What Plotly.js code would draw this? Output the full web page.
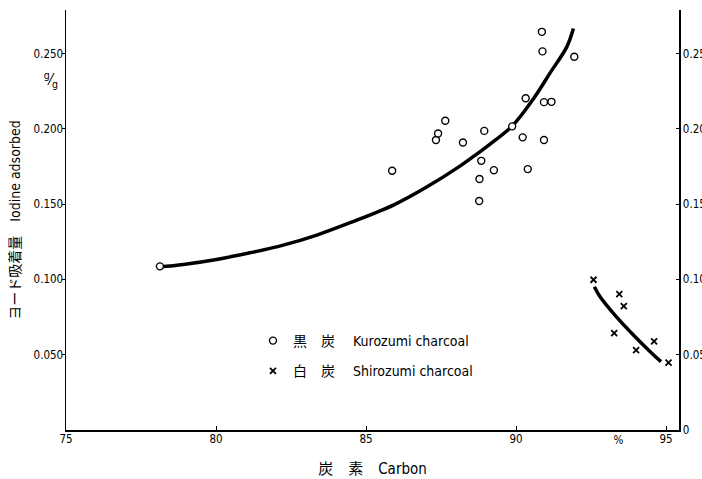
<!DOCTYPE html>
<html>
<head>
<meta charset="utf-8">
<script src="https://cdn.plot.ly/plotly-3.0.1.min.js"></script>
<style>
html,body{margin:0;padding:0;background:#fff;}
#chart{width:702px;height:479px;}
#chart svg text{font-stretch:condensed !important;}
</style>
</head>
<body>
<div id="chart"></div>
<script>
// Kurozumi charcoal (黒炭) measured points
const kuroCarbon = [78.13, 85.87, 87.33, 87.40, 87.64, 88.23, 88.94, 88.84, 88.78, 88.77, 89.26, 89.87, 90.22, 90.39, 90.32, 90.86, 90.88, 90.93, 91.18, 90.93, 91.94];
const kuroIodine = [0.1087, 0.1722, 0.1926, 0.1970, 0.2054, 0.1910, 0.1987, 0.1788, 0.1667, 0.1521, 0.1726, 0.2017, 0.1944, 0.1733, 0.2204, 0.2645, 0.2515, 0.2178, 0.2180, 0.1926, 0.2479];
// Kurozumi fitted curve
const kuroCurveCarbon = [78.13, 78.91, 80.02, 81.13, 82.24, 83.36, 84.47, 85.91, 87.02, 88.13, 88.69, 89.24, 89.87, 90.58, 91.13, 91.69, 91.91];
const kuroCurveIodine = [0.1084, 0.1100, 0.1133, 0.1177, 0.1228, 0.1295, 0.1377, 0.1494, 0.1614, 0.1753, 0.1833, 0.1916, 0.2019, 0.2201, 0.2371, 0.2545, 0.2667];
// Shirozumi charcoal (白炭) measured points
const shiroCarbon = [92.58, 93.44, 93.59, 93.27, 94.00, 94.60, 95.08];
const shiroIodine = [0.0998, 0.0903, 0.0823, 0.0644, 0.0531, 0.0589, 0.0447];
// Shirozumi fitted curve
const shiroCurveCarbon = [92.61, 92.80, 93.36, 93.91, 94.47, 94.83];
const shiroCurveIodine = [0.0952, 0.0885, 0.0748, 0.0631, 0.0520, 0.0454];
// Axis ticks
const xTickVals = [75, 80, 85, 90, 95];
const xTickText = ['75', '80', '85', '90', '95'];
const yTickVals = [0.05, 0.10, 0.15, 0.20, 0.25];
const yTickText = ['0.050', '0.100', '0.150', '0.200', '0.250'];
const y2TickVals = [0, 0.05, 0.10, 0.15, 0.20, 0.25];
const y2TickText = ['0', '0.050', '0.100', '0.150', '0.200', '0.250'];

const NARROW = '"DejaVu Sans", sans-serif';
const MIXED = '"DejaVu Sans", "Noto Sans CJK JP", sans-serif';
const xRange = [75, 95.43];
const yRange = [0, 0.279];

const traces = [
  {x: kuroCurveCarbon, y: kuroCurveIodine, mode: 'lines', line: {color: '#000', width: 3.5, shape: 'spline', smoothing: 1}, showlegend: false, hoverinfo: 'skip'},
  {x: shiroCurveCarbon, y: shiroCurveIodine, mode: 'lines', line: {color: '#000', width: 3.5, shape: 'spline', smoothing: 1}, showlegend: false, hoverinfo: 'skip', yaxis: 'y2'},
  {x: kuroCarbon, y: kuroIodine, mode: 'markers', name: '黒　炭　 Kurozumi charcoal', legendgroup: 'a',
   marker: {symbol: 'circle', size: 7, color: '#fff', line: {color: '#000', width: 1.4}}},
  {x: shiroCarbon, y: shiroIodine, mode: 'markers', name: '白　炭　 Shirozumi charcoal', legendgroup: 'b', yaxis: 'y2',
   marker: {symbol: 'x-thin-open', size: 6, color: '#000', line: {color: '#000', width: 1.8}}}
];

const layout = {
  width: 702, height: 479,
  margin: {l: 66, r: 23, t: 10, b: 49},
  paper_bgcolor: '#fff', plot_bgcolor: '#fff',
  font: {family: NARROW, color: '#000', size: 11},
  xaxis: {
    range: xRange, showgrid: false, zeroline: false, showline: true, linecolor: '#000', linewidth: 1.5,
    ticks: 'inside', ticklen: 4, tickcolor: '#000', tickvals: xTickVals, ticktext: xTickText,
    tickfont: {family: NARROW, size: 11.5}, ticklabelstandoff: -2,
    title: {text: '炭　素　Carbon', font: {family: MIXED, size: 15}, standoff: 18}
  },
  yaxis: {
    range: yRange, showgrid: false, zeroline: false, showline: true, linecolor: '#000', linewidth: 1.5,
    ticks: 'outside', ticklen: 3, tickcolor: '#000', tickvals: yTickVals, ticktext: yTickText,
    tickfont: {family: NARROW, size: 11.5}, ticklabelstandoff: -4,
    title: {text: 'ヨード吸着量　Iodine adsorbed', font: {family: MIXED, size: 14}, standoff: 6}
  },
  yaxis2: {
    range: yRange, overlaying: 'y', side: 'right', showgrid: false, zeroline: false, showline: true,
    linecolor: '#000', linewidth: 1.5, ticks: 'inside', ticklen: 3, tickcolor: '#000',
    tickvals: y2TickVals, ticktext: y2TickText, tickfont: {family: NARROW, size: 11.5}
  },
  legend: {
    x: 0.305, y: 0.25, xanchor: 'left', yanchor: 'top', bgcolor: 'rgba(0,0,0,0)',
    font: {family: MIXED, size: 14}, tracegroupgap: 9, itemclick: false
  },
  annotations: [
    {text: '<sup>g</sup>⁄<sub>g</sub>', xref: 'paper', yref: 'paper', x: -0.04, y: 0.865, showarrow: false,
     font: {family: NARROW, size: 15}},
    {text: '%', xref: 'x', yref: 'paper', x: 93.43, y: 0, yanchor: 'top', yshift: -1, showarrow: false,
     font: {family: NARROW, size: 11.5}}
  ]
};

Plotly.newPlot('chart', traces, layout, {displayModeBar: false, staticPlot: true});
</script>
</body>
</html>
